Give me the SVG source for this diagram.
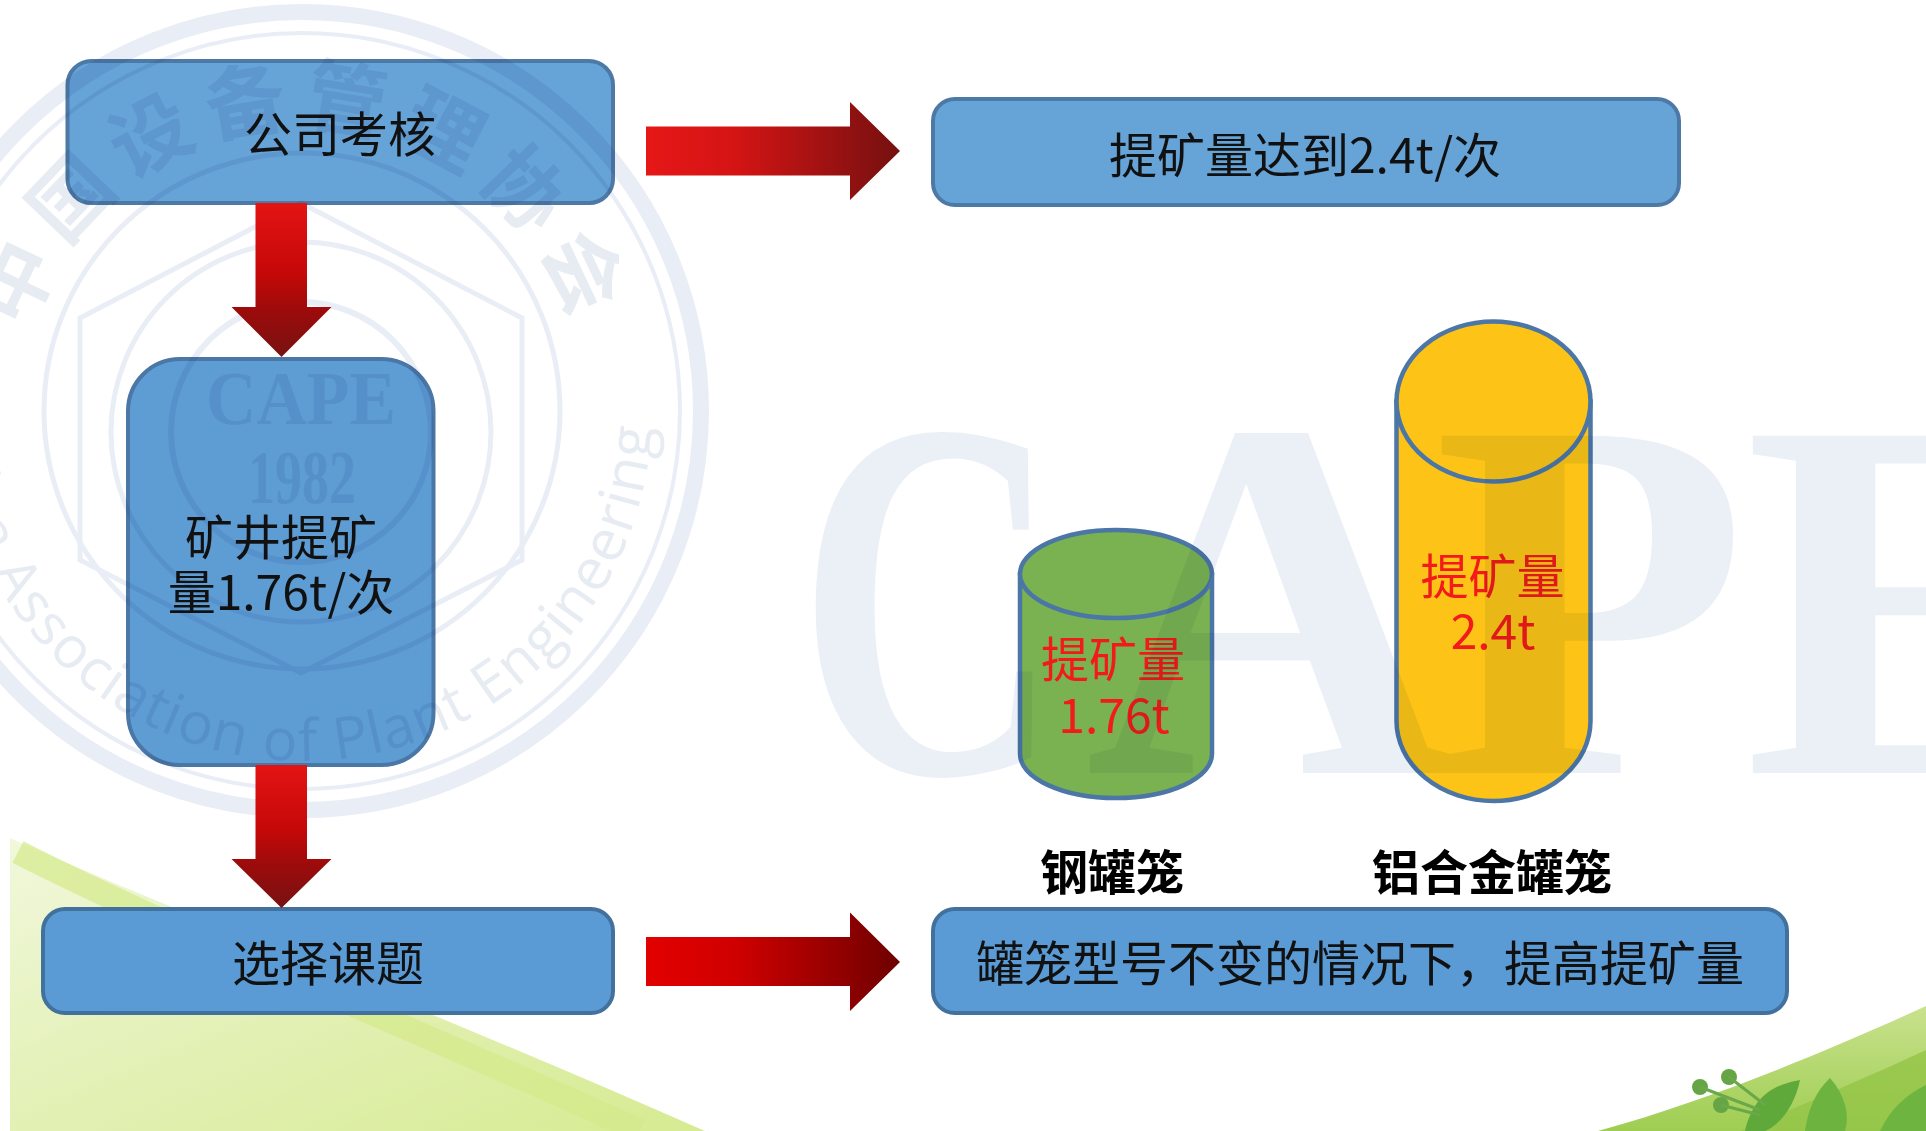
<svg xmlns="http://www.w3.org/2000/svg" width="1926" height="1131" viewBox="0 0 1926 1131">
  <defs>
    <style>
      .lbl{font-family:"Noto Sans CJK SC","Noto Sans",sans-serif;font-size:48px;text-anchor:middle;dominant-baseline:central;fill:#111}
      .red{fill:#f21a1a}
      .bold{font-weight:700;fill:#000}
      .boxTop{fill:#66a3d7;stroke:#4d79a6;stroke-width:4}
      .boxLow{fill:#5b9bd5;stroke:#41719c;stroke-width:4}
      .cyl{stroke:#4b76a6;stroke-width:4.5}
      .wm{fill:none;stroke:#e9edf5}
      .wmt{fill:#e7ecf3}
    </style>
    <linearGradient id="arrowH" x1="0" y1="0" x2="1" y2="0">
      <stop offset="0" stop-color="#e61717"/>
      <stop offset="0.35" stop-color="#d41414"/>
      <stop offset="1" stop-color="#751010"/>
    </linearGradient>
    <linearGradient id="arrowH2" x1="0" y1="0" x2="1" y2="0">
      <stop offset="0" stop-color="#e20000"/>
      <stop offset="0.35" stop-color="#d00000"/>
      <stop offset="1" stop-color="#6e0000"/>
    </linearGradient>
    <linearGradient id="arrowV" x1="0" y1="0" x2="0" y2="1">
      <stop offset="0" stop-color="#e31414"/>
      <stop offset="0.45" stop-color="#c60808"/>
      <stop offset="0.7" stop-color="#9c0b0b"/>
      <stop offset="1" stop-color="#781212"/>
    </linearGradient>
    <linearGradient id="leafL" x1="0" y1="0" x2="1" y2="1">
      <stop offset="0" stop-color="#f1f8dc"/>
      <stop offset="0.45" stop-color="#e4f1b8"/>
      <stop offset="1" stop-color="#d6eb92"/>
    </linearGradient>
    <linearGradient id="leafR" x1="0" y1="0" x2="0" y2="1">
      <stop offset="0" stop-color="#c9e28e"/>
      <stop offset="1" stop-color="#9fcd52"/>
    </linearGradient>
    <path id="arcCn" d="M55.2,553.5 A285,285 0 1 1 548.8,553.5"/>
    <path id="arcEn" d="M-47.8,398.8 A350,350 0 1 0 630.9,291.3"/>
  </defs>

  <rect width="1926" height="1131" fill="#ffffff"/>

  <!-- background swooshes -->
  <g id="background">
    <path d="M10,838 C160,905 430,1010 705,1131 L10,1131 Z" fill="url(#leafL)"/>
    <path d="M18,852 C180,935 430,1035 640,1131" fill="none" stroke="#d4e98a" stroke-width="24" opacity="0.7"/>
    <path d="M1926,1006 C1830,1050 1710,1100 1598,1131 L1926,1131 Z" fill="url(#leafR)"/>
    <path d="M1926,1050 C1850,1085 1790,1110 1740,1131 L1926,1131 Z" fill="#93c447" opacity="0.8"/>
    <path d="M1745,1131 C1752,1100 1770,1085 1800,1080 C1795,1105 1780,1125 1765,1131 Z" fill="#5fa83a"/>
    <path d="M1805,1131 C1808,1110 1815,1092 1830,1078 C1845,1095 1850,1115 1845,1131 Z" fill="#6cb43f"/>
    <path d="M1880,1131 C1890,1110 1905,1095 1926,1085 L1926,1131 Z" fill="#6db540"/>
    <circle cx="1700" cy="1087" r="8" fill="#66a545"/>
    <circle cx="1729" cy="1077" r="8" fill="#66a545"/>
    <circle cx="1721" cy="1105" r="8" fill="#66a545"/>
    <path d="M1700,1087 L1760,1110 M1729,1077 L1765,1105 M1721,1105 L1760,1115" stroke="#6aa84a" stroke-width="3" fill="none"/>
  </g>

  <!-- nodes -->
  <g id="node-assess">
    <rect class="boxTop" x="67.5" y="61" width="545.5" height="142" rx="24"/>
    <text class="lbl" x="340" y="131">公司考核</text>
  </g>
  <g id="node-target">
    <rect class="boxTop" x="933" y="99" width="746" height="106" rx="22"/>
    <text class="lbl" x="1305" y="152">提矿量达到2.4t/次</text>
  </g>
  <g id="node-current">
    <rect x="128" y="359" width="305.5" height="406" rx="52" fill="#5e9cd4" stroke="#4a77a6" stroke-width="4"/>
    <text class="lbl" x="281" y="534">矿井提矿</text>
    <text class="lbl" x="281" y="589">量1.76t/次</text>
  </g>
  <g id="node-topic">
    <rect class="boxLow" x="43" y="909" width="570" height="104" rx="22"/>
    <text class="lbl" x="328" y="960">选择课题</text>
  </g>
  <g id="node-goal">
    <rect class="boxLow" x="933" y="909" width="854" height="104" rx="22"/>
    <text class="lbl" x="1360" y="960">罐笼型号不变的情况下，提高提矿量</text>
  </g>
  <g id="node-steel-cage">
    <path class="cyl" fill="#7ab252" d="M1020,574 L1020,754 A96,44 0 0 0 1212,754 L1212,574 Z"/>
    <ellipse class="cyl" fill="#7ab252" cx="1116" cy="574" rx="96" ry="44"/>
    <text class="lbl red" x="1113" y="656">提矿量</text>
    <text class="lbl red" x="1114" y="712">1.76t</text>
    <text class="lbl bold" x="1112" y="869">钢罐笼</text>
  </g>
  <g id="node-alloy-cage">
    <path class="cyl" fill="#fdc316" d="M1396.5,401.5 L1396.5,721 A97,80 0 0 0 1590.5,721 L1590.5,401.5 Z"/>
    <ellipse class="cyl" fill="#fdc316" cx="1493.5" cy="401.5" rx="97" ry="80"/>
    <text class="lbl red" x="1492.5" y="573">提矿量</text>
    <text class="lbl red" x="1493" y="628">2.4t</text>
    <text class="lbl bold" x="1492" y="869">铝合金罐笼</text>
  </g>

  <!-- faint association emblem and lettering laid over the page -->
  <g id="watermark" style="mix-blend-mode:multiply">
    <circle class="wm" cx="302" cy="411" r="399" stroke-width="16"/>
    <circle class="wm" cx="302" cy="411" r="378" stroke-width="4"/>
    <circle class="wm" cx="302" cy="411" r="258" stroke-width="5"/>
    <polygon class="wm" stroke-width="5" points="301,203 522,318 522,560 301,673 80,560 80,318"/>
    <circle class="wm" cx="301" cy="432" r="190" stroke-width="5"/>
    <circle class="wm" cx="301" cy="432" r="130" stroke-width="6"/>
    <text class="wmt" font-family="'Noto Sans CJK SC',sans-serif" font-weight="700" font-size="80" letter-spacing="12">
      <textPath href="#arcCn" startOffset="50%" text-anchor="middle">中国设备管理协会</textPath>
    </text>
    <text class="wmt" font-family="'Open Sans','Noto Sans',sans-serif" font-size="58">
      <textPath href="#arcEn" textLength="1095" lengthAdjust="spacing">China Association of Plant Engineering</textPath>
    </text>
    <text class="wmt" font-family="'Liberation Serif',serif" font-weight="700" font-size="76" x="206" y="424" textLength="190" lengthAdjust="spacingAndGlyphs">CAPE</text>
    <text class="wmt" font-family="'Liberation Serif',serif" font-weight="700" font-size="76" x="248" y="503" textLength="108" lengthAdjust="spacingAndGlyphs">1982</text>
    <g fill="#ebeff6" font-family="'Liberation Serif',serif" font-weight="700" font-size="515">
      <text x="798" y="773" textLength="262" lengthAdjust="spacingAndGlyphs">C</text>
      <text x="1085" y="773">A</text>
      <text x="1433" y="773">P</text>
      <text x="1744" y="773">E</text>
    </g>
  </g>

  <!-- connectors -->
  <g id="connectors">
    <polygon fill="url(#arrowH)" points="646,126.5 850,126.5 850,102 900,151 850,200 850,175.5 646,175.5"/>
    <polygon fill="url(#arrowH2)" points="646,937 850,937 850,912.5 900,962 850,1011 850,986 646,986"/>
    <polygon fill="url(#arrowV)" points="255.5,203 307,203 307,307 331.5,307 281.5,357 231.5,307 255.5,307"/>
    <polygon fill="url(#arrowV)" points="255.5,765 307,765 307,859 331.5,859 281.5,908 231.5,859 255.5,859"/>
  </g>
</svg>
